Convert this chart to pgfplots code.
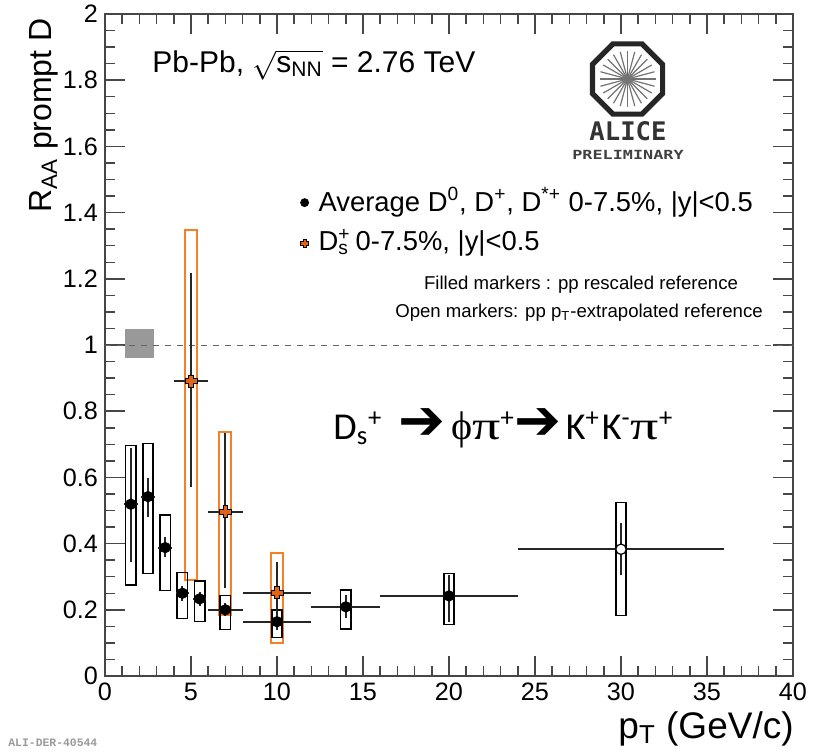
\documentclass[border=0pt]{standalone}
\usepackage{pgfplots}
\pgfplotsset{compat=1.18}
\usepackage{fontspec}
\setmainfont{Liberation Sans}
\newfontfamily\calibri{Carlito}
\newfontfamily\serifgreek{Liberation Serif}
\newfontfamily\dejavu{DejaVu Sans}
\newfontfamily\monologo{DejaVu Sans Mono}
\newfontfamily\monoali{Liberation Mono}
\usetikzlibrary{shapes.geometric}
\definecolor{dsorange}{RGB}{245,128,37}
\definecolor{dsmark}{RGB}{228,98,20}
\definecolor{framegray}{RGB}{70,70,70}
\pgfdeclareplotmark{fcross}{%
  \pgfpathmoveto{\pgfqpoint{-0.4\pgfplotmarksize}{\pgfplotmarksize}}%
  \pgfpathlineto{\pgfqpoint{0.4\pgfplotmarksize}{\pgfplotmarksize}}%
  \pgfpathlineto{\pgfqpoint{0.4\pgfplotmarksize}{0.4\pgfplotmarksize}}%
  \pgfpathlineto{\pgfqpoint{\pgfplotmarksize}{0.4\pgfplotmarksize}}%
  \pgfpathlineto{\pgfqpoint{\pgfplotmarksize}{-0.4\pgfplotmarksize}}%
  \pgfpathlineto{\pgfqpoint{0.4\pgfplotmarksize}{-0.4\pgfplotmarksize}}%
  \pgfpathlineto{\pgfqpoint{0.4\pgfplotmarksize}{-\pgfplotmarksize}}%
  \pgfpathlineto{\pgfqpoint{-0.4\pgfplotmarksize}{-\pgfplotmarksize}}%
  \pgfpathlineto{\pgfqpoint{-0.4\pgfplotmarksize}{-0.4\pgfplotmarksize}}%
  \pgfpathlineto{\pgfqpoint{-\pgfplotmarksize}{-0.4\pgfplotmarksize}}%
  \pgfpathlineto{\pgfqpoint{-\pgfplotmarksize}{0.4\pgfplotmarksize}}%
  \pgfpathlineto{\pgfqpoint{-0.4\pgfplotmarksize}{0.4\pgfplotmarksize}}%
  \pgfpathclose\pgfusepathqfillstroke}
\newcommand\Ds{D\rlap{\textsuperscript{+}}\textsubscript{\makebox[0.45em][l]{s}}}
\newcommand\bigarrow{{\fontsize{28}{28}\selectfont\dejavu ➔}}
\newcommand\gphi{{\fontsize{20}{20}\selectfont\serifgreek ϕ}}
\newcommand\gpi{\scalebox{1.4}[1]{\fontsize{20}{20}\selectfont\serifgreek π}}
\begin{document}
\begin{tikzpicture}
\begin{axis}[
  at={(0,0)}, anchor=origin,
  scale only axis, width=344pt, height=331pt,
  xmin=0, xmax=40, ymin=0, ymax=2,
  xtick={0,5,10,15,20,25,30,35,40},
  ytick={0,0.2,0.4,0.6,0.8,1,1.2,1.4,1.6,1.8,2},
  minor x tick num=4, minor y tick num=3,
  tick align=inside, major tick length=10pt, minor tick length=5pt,
  axis line style={framegray, line width=0.75pt},
  every tick/.style={framegray, line width=0.75pt},
  tick label style={font=\fontsize{12.6}{14}\selectfont},
  /pgf/number format/assume math mode=true,
  clip=false,
  legend cell align=left,
  legend image code/.code={\draw[#1, mark size=2pt] plot coordinates {(0pt,-1pt)};},
  legend style={at={(axis cs:11.35,1.49)}, anchor=north west, draw=none, fill=none,
    font=\fontsize{13.7}{16}\selectfont, row sep=3.5pt, column sep=3pt, inner sep=0pt},
]
% normalisation box
\addplot[fill=black!40, draw=none, forget plot] coordinates {(1.15,0.962)(2.85,0.962)(2.85,1.048)(1.15,1.048)} -- cycle;
% reference line
\addplot[black!60, dashed, line width=0.5pt, forget plot] coordinates {(0,1)(40,1)};
% Ds systematic boxes
\addplot[dsorange, line width=1pt, forget plot] coordinates {(4.65,0.290)(5.35,0.290)(5.35,1.347)(4.65,1.347)} -- cycle;
\addplot[dsorange, line width=1pt, forget plot] coordinates {(6.65,0.184)(7.35,0.184)(7.35,0.736)(6.65,0.736)} -- cycle;
\addplot[dsorange, line width=1pt, forget plot] coordinates {(9.65,0.099)(10.35,0.099)(10.35,0.371)(9.65,0.371)} -- cycle;
% average D systematic boxes
\addplot[black, line width=0.75pt, forget plot] coordinates {(1.2,0.275)(1.8,0.275)(1.8,0.696)(1.2,0.696)} -- cycle;
\addplot[black, line width=0.75pt, forget plot] coordinates {(2.2,0.310)(2.8,0.310)(2.8,0.703)(2.2,0.703)} -- cycle;
\addplot[black, line width=0.75pt, forget plot] coordinates {(3.2,0.258)(3.8,0.258)(3.8,0.486)(3.2,0.486)} -- cycle;
\addplot[black, line width=0.75pt, forget plot] coordinates {(4.2,0.174)(4.8,0.174)(4.8,0.312)(4.2,0.312)} -- cycle;
\addplot[black, line width=0.75pt, forget plot] coordinates {(5.2,0.165)(5.8,0.165)(5.8,0.287)(5.2,0.287)} -- cycle;
\addplot[black, line width=0.75pt, forget plot] coordinates {(6.7,0.141)(7.3,0.141)(7.3,0.243)(6.7,0.243)} -- cycle;
\addplot[black, line width=0.75pt, forget plot] coordinates {(9.7,0.116)(10.3,0.116)(10.3,0.199)(9.7,0.199)} -- cycle;
\addplot[black, line width=0.75pt, forget plot] coordinates {(13.7,0.142)(14.3,0.142)(14.3,0.260)(13.7,0.260)} -- cycle;
\addplot[black, line width=0.75pt, forget plot] coordinates {(19.7,0.156)(20.3,0.156)(20.3,0.310)(19.7,0.310)} -- cycle;
\addplot[black, line width=0.75pt, forget plot] coordinates {(29.7,0.183)(30.3,0.183)(30.3,0.524)(29.7,0.524)} -- cycle;
% average D points
\addplot[only marks, mark=*, mark size=2.6pt, black,
  error bars/.cd, x dir=both, x explicit, y dir=both, y explicit, error mark=none,
  error bar style={line width=1pt, black!85}]
  table[x=x, y=y, x error minus=exm, x error plus=exp, y error minus=eym, y error plus=eyp] {
x    y     exm exp eym   eyp
1.5  0.519 0.4 0.4 0.175 0.170
2.5  0.542 0.4 0.4 0.061 0.057
3.5  0.388 0.4 0.4 0.029 0.033
4.5  0.250 0.4 0.4 0.022 0.022
5.5  0.233 0.4 0.4 0.022 0.022
7    0.200 1   1   0.020 0.020
10   0.164 2   2   0.025 0.025
14   0.209 2   2   0.034 0.036
20   0.242 4   4   0.078 0.063
};
\addlegendentry{Average D\textsuperscript{0}, D\textsuperscript{+}, D\textsuperscript{*+} 0-7.5\%, |y|<0.5}
% open point (pT-extrapolated reference)
\addplot[only marks, mark=*, mark size=2.6pt, black, fill=white, mark options={fill=white, line width=0.6pt}, forget plot,
  error bars/.cd, x dir=both, x explicit, y dir=both, y explicit, error mark=none,
  error bar style={line width=1pt, black!85}]
  table[x=x, y=y, x error minus=exm, x error plus=exp, y error minus=eym, y error plus=eyp] {
x    y     exm exp eym   eyp
30   0.383 6   6   0.078 0.080
};
% Ds points
\addplot[only marks, mark=fcross, mark size=3pt, mark options={fill=dsmark, draw=black, line width=0.4pt},
  error bars/.cd, x dir=both, x explicit, y dir=both, y explicit, error mark=none,
  error bar style={line width=1pt, black!85}]
  table[x=x, y=y, x error minus=exm, x error plus=exp, y error minus=eym, y error plus=eyp] {
x    y     exm exp eym   eyp
5    0.891 1   1   0.319 0.326
7    0.496 1   1   0.231 0.237
10   0.252 2   2   0.090 0.093
};
\addlegendentry{\Ds{} 0-7.5\%, |y|<0.5}
\end{axis}
% labels and annotations (positions in pt relative to the axis origin)
\node[rotate=90, anchor=base east, inner sep=0pt, font=\fontsize{16}{18}\selectfont] at (-26.5pt,329pt) {R\textsubscript{AA} prompt D};
\node[anchor=base east, inner sep=0pt, font=\fontsize{18.5}{20}\selectfont] at (344.5pt,-31pt) {p\textsubscript{T} (GeV/c)};
\node[anchor=west, inner sep=0pt, font=\fontsize{15}{17}\selectfont] at (23.5pt,305.5pt) {Pb-Pb, $\sqrt{\mbox{s\textsubscript{NN}}}$ = 2.76 TeV};
\node[inner sep=0pt, font=\fontsize{9.3}{11}\selectfont] at (238pt,195.5pt) {Filled markers : pp rescaled reference};
\node[inner sep=0pt, font=\fontsize{9.3}{11}\selectfont] at (237pt,181.5pt) {Open markers: pp p\textsubscript{T}-extrapolated reference};
\node[anchor=base west, inner sep=0pt, font=\fontsize{19}{20}\selectfont\calibri] at (114pt,118.5pt)
  {D\textsubscript{s}\textsuperscript{+}\hspace{8pt}\bigarrow\hspace{3pt}\gphi\gpi\textsuperscript{+}\bigarrow\hspace{2pt}K\textsuperscript{+}\hspace{1pt}K\textsuperscript{-}\gpi\textsuperscript{+}};
% ALICE Preliminary logo
\begin{scope}[shift={(261.25pt,298.5pt)}]
  \foreach \a in {0,15,...,345} \draw[black!55, line width=0.6pt] (0,0) -- (\a:14pt);
  \node[regular polygon, regular polygon sides=8, minimum size=38pt, draw=black!85, line width=2.6pt, inner sep=0pt] at (0,0) {};
\end{scope}
\node[inner sep=0pt, font=\fontsize{12.8}{14}\selectfont\monologo\bfseries, text=black!80] at (261.5pt,272.5pt) {ALICE};
\node[inner sep=0pt, font=\fontsize{8.4}{10}\selectfont\monologo\bfseries, text=black!75] at (261.5pt,260.5pt) {\scalebox{1}[0.75]{PRELIMINARY}};
\node[anchor=west, inner sep=0pt, font=\fontsize{5.7}{7}\selectfont\monoali\bfseries, text=black!40] at (-48.5pt,-33.5pt) {ALI-DER-40544};
\pgfresetboundingbox
\path[use as bounding box] (-52.5pt,-37.5pt) rectangle (357pt,338pt);
\end{tikzpicture}
\end{document}
